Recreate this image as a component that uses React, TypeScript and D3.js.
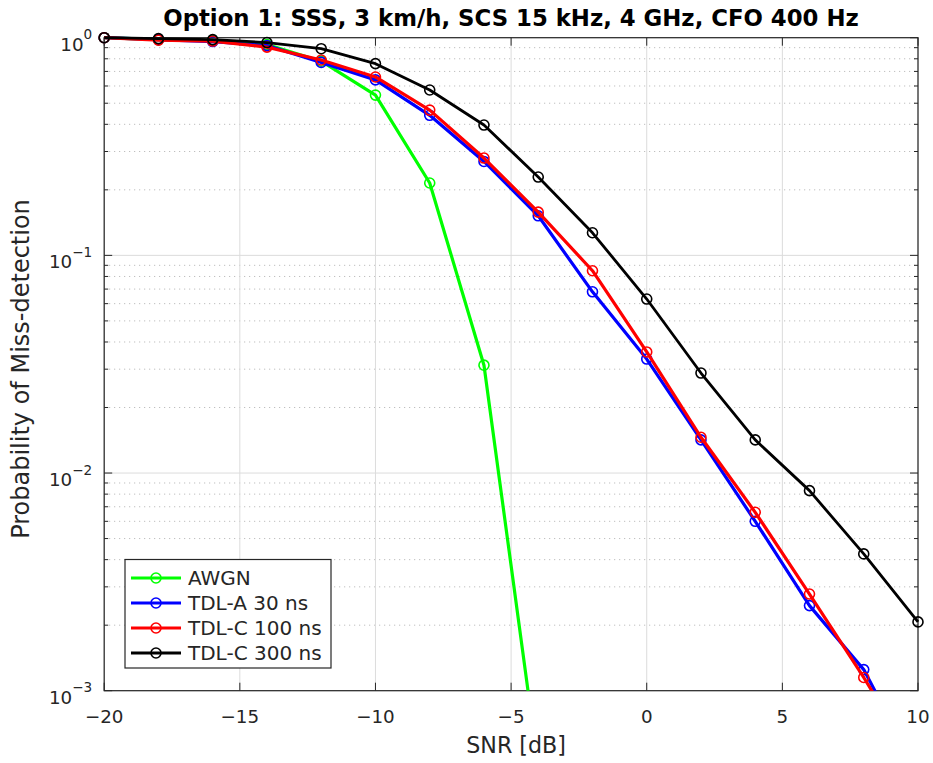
import React from "react";
import * as d3 from "d3";

const snr = [-20, -18, -16, -14, -12, -10, -8, -6, -4, -2, 0, 2, 4, 6, 8, 10];
const awgnSnr = [-20, -18, -16, -14, -12, -10, -8, -6, -4];
const awgn = [1.0, 0.98, 0.97, 0.93, 0.78, 0.545, 0.215, 0.0313, 0.00045];
const tdlA30 = [1.0, 0.98, 0.96, 0.92, 0.77, 0.64, 0.44, 0.27, 0.152, 0.068, 0.0334, 0.0142, 0.006, 0.00246, 0.00125, 0.00042];
const tdlC100 = [1.0, 0.975, 0.965, 0.905, 0.79, 0.66, 0.465, 0.28, 0.158, 0.085, 0.036, 0.0146, 0.0066, 0.00278, 0.00115, 0.00045];
const tdlC300 = [1.0, 0.99, 0.98, 0.95, 0.89, 0.76, 0.575, 0.397, 0.229, 0.127, 0.063, 0.0288, 0.0142, 0.0083, 0.00425, 0.00207];
const xTicks = [-20, -15, -10, -5, 0, 5, 10];
const yDecades = [0, -1, -2, -3];
const legendLabels = ["AWGN", "TDL-A 30 ns", "TDL-C 100 ns", "TDL-C 300 ns"];
const colors = ["#00ff00", "#0000ff", "#ff0000", "#000000"];

const W = 933, H = 763;
const L = 104.2, R = 918, T = 37.7, B = 690.7;
const FONT = "'DejaVu Sans', sans-serif";

export default function App() {
  const x = d3.scaleLinear().domain([-20, 10]).range([L, R]);
  const y = d3.scaleLog().domain([1e-3, 1]).range([B, T]);
  const series = [
    { xs: awgnSnr, ys: awgn },
    { xs: snr, ys: tdlA30 },
    { xs: snr, ys: tdlC100 },
    { xs: snr, ys: tdlC300 },
  ];
  const line = d3.line<[number, number]>().x((d) => x(d[0])).y((d) => y(d[1]));
  const minors: number[] = [];
  for (let e = -3; e < 0; e++) for (let m = 2; m <= 9; m++) minors.push(m * Math.pow(10, e));
  const tickCol = "#262626";
  return (
    <svg width={W} height={H} style={{ position: "absolute", left: 0, top: 0, background: "#fff" }}>
      <defs>
        <clipPath id="clip">
          <rect x={L - 12} y={T - 12} width={R - L + 24} height={B - T + 12} />
        </clipPath>
      </defs>
      <rect x={0} y={0} width={W} height={H} fill="#fff" />
      {/* minor grid */}
      {minors.map((v, i) => (
        <line key={"mg" + i} x1={L} x2={R} y1={y(v)} y2={y(v)} stroke="#b0b0b0" strokeWidth={1} strokeDasharray="1,4" />
      ))}
      {/* major grid */}
      {xTicks.map((t) => (
        <line key={"gx" + t} x1={x(t)} x2={x(t)} y1={T} y2={B} stroke="#dcdcdc" strokeWidth={1} />
      ))}
      {yDecades.map((e) => (
        <line key={"gy" + e} x1={L} x2={R} y1={y(Math.pow(10, e))} y2={y(Math.pow(10, e))} stroke="#dcdcdc" strokeWidth={1} />
      ))}
      {/* ticks */}
      {xTicks.map((t) => (
        <g key={"tx" + t}>
          <line x1={x(t)} x2={x(t)} y1={B} y2={B - 8} stroke={tickCol} />
          <line x1={x(t)} x2={x(t)} y1={T} y2={T + 8} stroke={tickCol} />
        </g>
      ))}
      {minors.map((v, i) => (
        <g key={"mt" + i}>
          <line x1={L} x2={L + 4} y1={y(v)} y2={y(v)} stroke={tickCol} />
          <line x1={R} x2={R - 4} y1={y(v)} y2={y(v)} stroke={tickCol} />
        </g>
      ))}
      {yDecades.map((e) => (
        <g key={"ty" + e}>
          <line x1={L} x2={L + 8} y1={y(Math.pow(10, e))} y2={y(Math.pow(10, e))} stroke={tickCol} />
          <line x1={R} x2={R - 8} y1={y(Math.pow(10, e))} y2={y(Math.pow(10, e))} stroke={tickCol} />
        </g>
      ))}
      {/* axes box */}
      <rect x={L} y={T} width={R - L} height={B - T} fill="none" stroke={tickCol} strokeWidth={1.2} />
      {/* series */}
      <g clipPath="url(#clip)">
        {series.map((s, i) => {
          const pts = s.xs.map((v, j) => [v, s.ys[j]] as [number, number]);
          return (
            <g key={"s" + i}>
              <path d={line(pts) || ""} fill="none" stroke={colors[i]} strokeWidth={i === 3 ? 2.8 : 3.2} strokeLinejoin="round" />
              {pts.map((p, j) => (
                <circle key={j} cx={x(p[0])} cy={y(p[1])} r={5} fill="none" stroke={colors[i]} strokeWidth={1.6} />
              ))}
            </g>
          );
        })}
      </g>
      {/* tick labels */}
      {xTicks.map((t) => (
        <text key={"lx" + t} x={x(t)} y={723} textAnchor="middle" fontFamily={FONT} fontSize={18.3} fill={tickCol}>
          {t < 0 ? "\u2212" + Math.abs(t) : String(t)}
        </text>
      ))}
      {yDecades.map((e) => (
        <text key={"ly" + e} x={L - 12} y={y(Math.pow(10, e)) + 13} textAnchor="end" fontFamily={FONT} fontSize={18.3} fill={tickCol}>
          10
          <tspan dy={-11.5} fontSize={13.6}>{e === 0 ? "0" : "\u2212" + Math.abs(e)}</tspan>
        </text>
      ))}
      {/* axis labels */}
      <text x={(L + R) / 2 + 5} y={753} textAnchor="middle" fontFamily={FONT} fontSize={22.2} fill={tickCol}>
        SNR [dB]
      </text>
      <text transform={`translate(29,369) rotate(-90)`} textAnchor="middle" fontFamily={FONT} fontSize={24} fill={tickCol}>
        Probability of Miss-detection
      </text>
      <text x={511} y={26} textAnchor="middle" fontFamily={FONT} fontSize={22.8} fontWeight="bold" fill="#000">
        Option 1: SSS, 3 km/h, SCS 15 kHz, 4 GHz, CFO 400 Hz
      </text>
      {/* legend */}
      <g>
        <rect x={125} y={559.5} width={206} height={108.5} fill="#fff" stroke={tickCol} strokeWidth={1.2} />
        {legendLabels.map((lab, i) => {
          const ly = 578 + i * 25;
          return (
            <g key={"lg" + i}>
              <line x1={131} x2={181} y1={ly} y2={ly} stroke={colors[i]} strokeWidth={3.2} />
              <circle cx={156} cy={ly} r={5} fill="none" stroke={colors[i]} strokeWidth={1.6} />
              <text x={188} y={ly + 7} fontFamily={FONT} fontSize={20} fill={tickCol}>
                {lab}
              </text>
            </g>
          );
        })}
      </g>
    </svg>
  );
}
